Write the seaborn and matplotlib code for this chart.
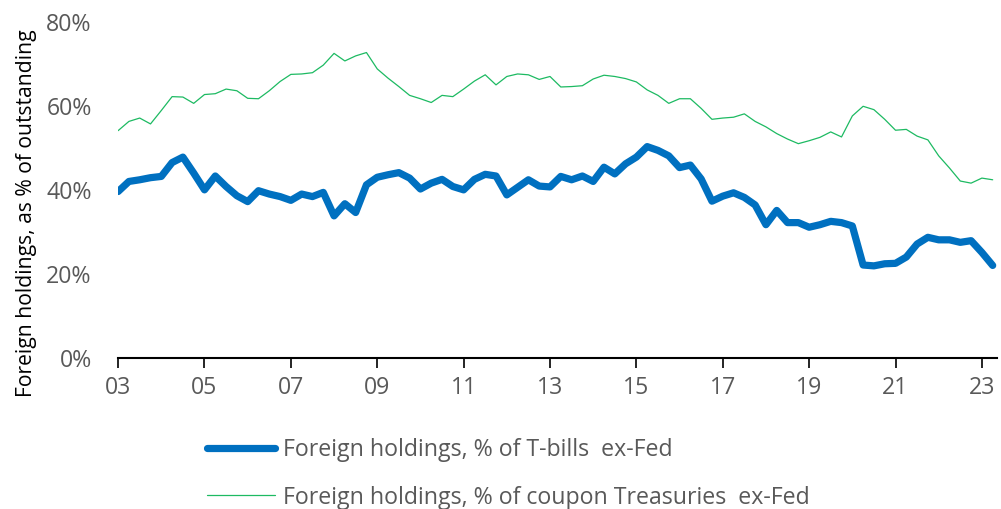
import numpy as np
import pandas as pd
import matplotlib
matplotlib.use("Agg")
import matplotlib.pyplot as plt
import seaborn as sns

# Quarterly observations, 2003Q1 - 2023Q2
quarters = pd.period_range("2003Q1", "2023Q2", freq="Q")

# Foreign holdings, % of T-bills ex-Fed
tbills = [39.6, 42.0, 42.4, 42.9, 43.2, 46.5, 47.8, 44.0, 40.0, 43.3,
          40.8, 38.6, 37.2, 39.8, 39.0, 38.4, 37.5, 39.0, 38.4, 39.4,
          33.8, 36.7, 34.6, 41.2, 43.0, 43.6, 44.1, 42.8, 40.2, 41.6,
          42.5, 40.8, 40.0, 42.5, 43.7, 43.3, 38.8, 40.6, 42.4, 40.9,
          40.7, 43.2, 42.4, 43.3, 42.0, 45.4, 43.8, 46.2, 47.8, 50.3,
          49.4, 48.1, 45.3, 45.9, 42.6, 37.3, 38.5, 39.3, 38.2, 36.4,
          31.7, 35.1, 32.2, 32.2, 31.1, 31.7, 32.5, 32.2, 31.4, 22.1,
          21.9, 22.4, 22.5, 24.0, 27.1, 28.7, 28.1, 28.1, 27.5, 27.9,
          25.1, 22.0]

# Foreign holdings, % of coupon Treasuries ex-Fed
coupons = [54.1, 56.3, 57.1, 55.7, 58.9, 62.2, 62.1, 60.6, 62.7, 62.9,
           64.0, 63.6, 61.8, 61.7, 63.6, 65.8, 67.5, 67.6, 67.9, 69.7,
           72.5, 70.7, 71.9, 72.7, 68.8, 66.6, 64.6, 62.5, 61.7, 60.8,
           62.5, 62.2, 64.0, 65.9, 67.4, 65.0, 67.0, 67.6, 67.4, 66.3,
           67.0, 64.5, 64.6, 64.8, 66.4, 67.3, 67.0, 66.5, 65.7, 63.8,
           62.5, 60.6, 61.7, 61.7, 59.4, 56.8, 57.1, 57.3, 58.1, 56.3,
           55.0, 53.4, 52.1, 51.0, 51.7, 52.5, 53.8, 52.6, 57.6, 59.9,
           59.1, 56.8, 54.2, 54.4, 52.8, 51.9, 48.1, 45.2, 42.1, 41.6,
           42.8, 42.4]

x_ticks = list(range(2003, 2024, 2))
x_labels = [f"{y % 100:02d}" for y in x_ticks]
y_ticks = [0, 20, 40, 60, 80]

label_bills = "Foreign holdings, % of T-bills  ex-Fed"
label_coupon = "Foreign holdings, % of coupon Treasuries  ex-Fed"

df = pd.DataFrame({
    "t": quarters.year + (quarters.quarter - 1) / 4,
    "bills": tbills,
    "coupon": coupons,
})

sns.set_style("white")
plt.rcParams["font.family"] = ["Open Sans", "DejaVu Sans"]

fig = plt.figure(figsize=(10.01, 5.09), dpi=100)
ax = fig.add_axes([0.118, 0.297, 0.878, 0.660])

grey = "#595959"
fs = 16.7
sns.lineplot(data=df, x="t", y="bills", ax=ax, color="#0070C0", linewidth=5.2,
             label=label_bills)
sns.lineplot(data=df, x="t", y="coupon", ax=ax, color="#1DBA62", linewidth=0.9,
             label=label_coupon)

ax.set_xlim(2003, 2023.35)
ax.set_ylim(0, 80)
ax.set_xticks(x_ticks)
ax.set_xticklabels(x_labels)
ax.set_yticks(y_ticks)
ax.set_yticklabels([f"{v}%" for v in y_ticks])
ax.tick_params(axis="x", labelcolor=grey, labelsize=fs, length=7, width=1.2,
               color="black", direction="out", bottom=True, pad=6)
ax.tick_params(axis="y", labelcolor=grey, labelsize=fs, length=0, pad=19)
ax.set_xlabel("")
ax.set_ylabel("Foreign holdings, as % of outstanding", fontsize=15.2,
              color="black")
ax.yaxis.set_label_coords(-0.092, 0.43)

for side in ["top", "right", "left"]:
    ax.spines[side].set_visible(False)
ax.spines["bottom"].set_color("black")
ax.spines["bottom"].set_linewidth(1.5)

ax.get_legend().remove()
handles, labels = ax.get_legend_handles_labels()
leg = fig.legend(handles, labels, loc="upper left",
                 bbox_to_anchor=(0.1975, 0.157), frameon=False,
                 fontsize=fs, handlelength=2.93, handletextpad=0.35,
                 labelspacing=1.0, borderaxespad=0)
for txt in leg.get_texts():
    txt.set_color(grey)

plt.savefig("out.png", dpi=100)
plt.close()
